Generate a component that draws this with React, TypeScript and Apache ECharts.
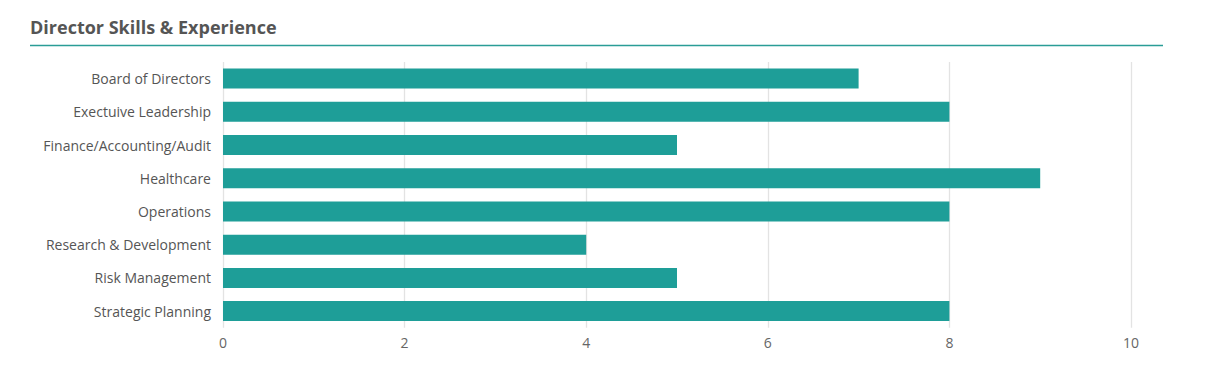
import React, { useEffect, useRef } from "react";
import * as echarts from "echarts";

const categories = [
  "Board of Directors",
  "Exectuive Leadership",
  "Finance/Accounting/Audit",
  "Healthcare",
  "Operations",
  "Research & Development",
  "Risk Management",
  "Strategic Planning",
];
const values = [7, 8, 5, 9, 8, 4, 5, 8];
const xTicks = { min: 0, max: 10, interval: 2 };

const FONT = "'Open Sans', sans-serif";

export default function App() {
  const ref = useRef<HTMLDivElement>(null);
  useEffect(() => {
    const chart = echarts.init(ref.current!, null, { renderer: "svg" });
    chart.setOption({
      animation: false,
      textStyle: { fontFamily: FONT },
      title: {
        text: "Director Skills & Experience",
        left: 17,
        top: 5,
        textStyle: { fontFamily: FONT, fontSize: 18, fontWeight: "bold", color: "#555555" },
      },
      graphic: [
        {
          type: "line",
          shape: { x1: 22, y1: 37.5, x2: 1155, y2: 37.5 },
          style: { stroke: "#2a9d96", lineWidth: 1.3 },
        },
      ],
      grid: { left: 215, right: 67, top: 54, bottom: 46.3 },
      xAxis: {
        type: "value",
        min: xTicks.min,
        max: xTicks.max,
        interval: xTicks.interval,
        axisLine: { show: false },
        axisTick: { show: false },
        splitLine: { show: true, lineStyle: { color: "#e3e3e3", width: 1.3 } },
        axisLabel: { color: "#666666", fontSize: 14, fontFamily: FONT, margin: 8 },
      },
      yAxis: {
        type: "category",
        data: categories,
        inverse: true,
        axisLine: { show: false },
        axisTick: { show: false },
        axisLabel: { color: "#555555", fontSize: 14, fontFamily: FONT, margin: 12 },
      },
      series: [
        {
          type: "bar",
          data: values,
          barWidth: 20,
          itemStyle: { color: "#1e9e98" },
        },
      ],
    });
    return () => chart.dispose();
  }, []);
  return <div ref={ref} style={{ width: 1190, height: 366 }} />;
}
